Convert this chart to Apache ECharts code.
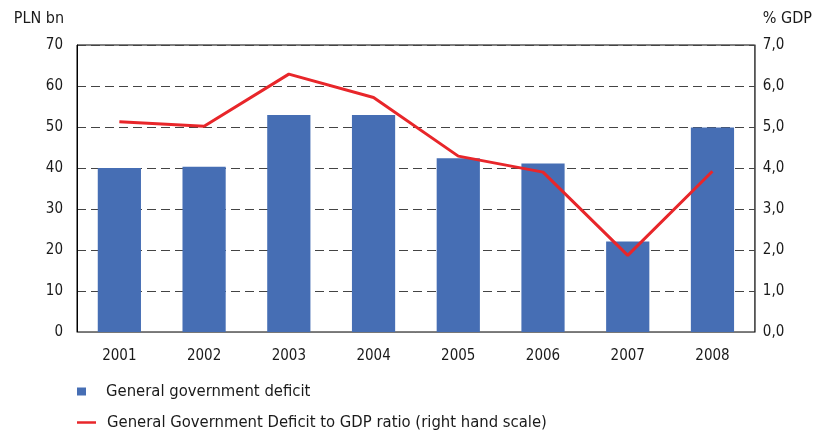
<!DOCTYPE html>
<html><head><meta charset="utf-8">
<script src="https://cdn.jsdelivr.net/npm/echarts@6/dist/echarts.min.js"></script>
<style>html,body{margin:0;padding:0;background:#fff}#c{width:815px;height:430px}</style>
</head><body><div id="c"></div>
<script>
const years = ['2001','2002','2003','2004','2005','2006','2007','2008'];
const deficitPLN = [40.0, 40.3, 52.9, 52.9, 42.4, 41.1, 22.1, 49.9];
const deficitGDP = [5.13, 5.02, 6.29, 5.72, 4.29, 3.90, 1.87, 3.92];
const barName = 'General government deficit';
const lineName = 'General Government Deficit to GDP ratio (right hand scale)';
const FONT = 'DejaVu Sans Condensed';
const chart = echarts.init(document.getElementById('c'), null, {renderer:'canvas'});
const txt = {color:'#1a1a1a', fontFamily:FONT, fontSize:15};
const legTxt = {color:'#1a1a1a', fontFamily:FONT, fontSize:16.5};
chart.setOption({
  animation:false,
  textStyle:{fontFamily:FONT},
  grid:{left:77, right:58, top:45, bottom:98, show:true, borderColor:'#000', borderWidth:1, backgroundColor:'transparent'},
  legend:[
    {data:[{name:barName, icon:'rect'}], left:77, top:383, padding:0, itemWidth:9, itemHeight:8, itemGap:0,
     textStyle:Object.assign({}, legTxt, {padding:[0,0,0,15]})},
    {data:[{name:lineName, icon:'rect'}], left:77, top:414, padding:0, itemWidth:19, itemHeight:2.5, itemGap:0,
     textStyle:Object.assign({}, legTxt, {padding:[0,0,0,6]})}
  ],
  xAxis:{type:'category', data:years, boundaryGap:true,
    axisLine:{show:true, lineStyle:{color:'#777', width:1}}, axisTick:{show:false},
    axisLabel:Object.assign({}, txt, {margin:17})},
  yAxis:[
    {type:'value', min:0, max:70, interval:10, name:'PLN bn', nameLocation:'end', nameGap:18,
     nameTextStyle:Object.assign({}, txt, {fontSize:16, align:'right', padding:[0,13,0,0]}),
     axisLine:{show:true, lineStyle:{color:'#000'}}, axisTick:{show:false},
     axisLabel:Object.assign({}, txt, {margin:14}),
     splitLine:{show:true, lineStyle:{color:'#444', type:[9,5], width:1}}},
    {type:'value', min:0, max:7, interval:1, position:'right', name:'% GDP', nameLocation:'end', nameGap:18,
     nameTextStyle:Object.assign({}, txt, {fontSize:16, align:'left', padding:[0,0,0,8]}),
     axisLine:{show:true, lineStyle:{color:'#777'}}, axisTick:{show:false},
     axisLabel:Object.assign({}, txt, {margin:8, formatter:v=>v.toFixed(1).replace('.',',')}),
     splitLine:{show:false}}
  ],
  series:[
    {name:barName, type:'bar', data:deficitPLN, yAxisIndex:0, barWidth:'51%',
     itemStyle:{color:'#466eb4'}},
    {name:lineName, type:'line', data:deficitGDP, yAxisIndex:1, symbol:'none',
     lineStyle:{color:'#e8262a', width:3}, itemStyle:{color:'#e8262a'}}
  ]
});
</script></body></html>
